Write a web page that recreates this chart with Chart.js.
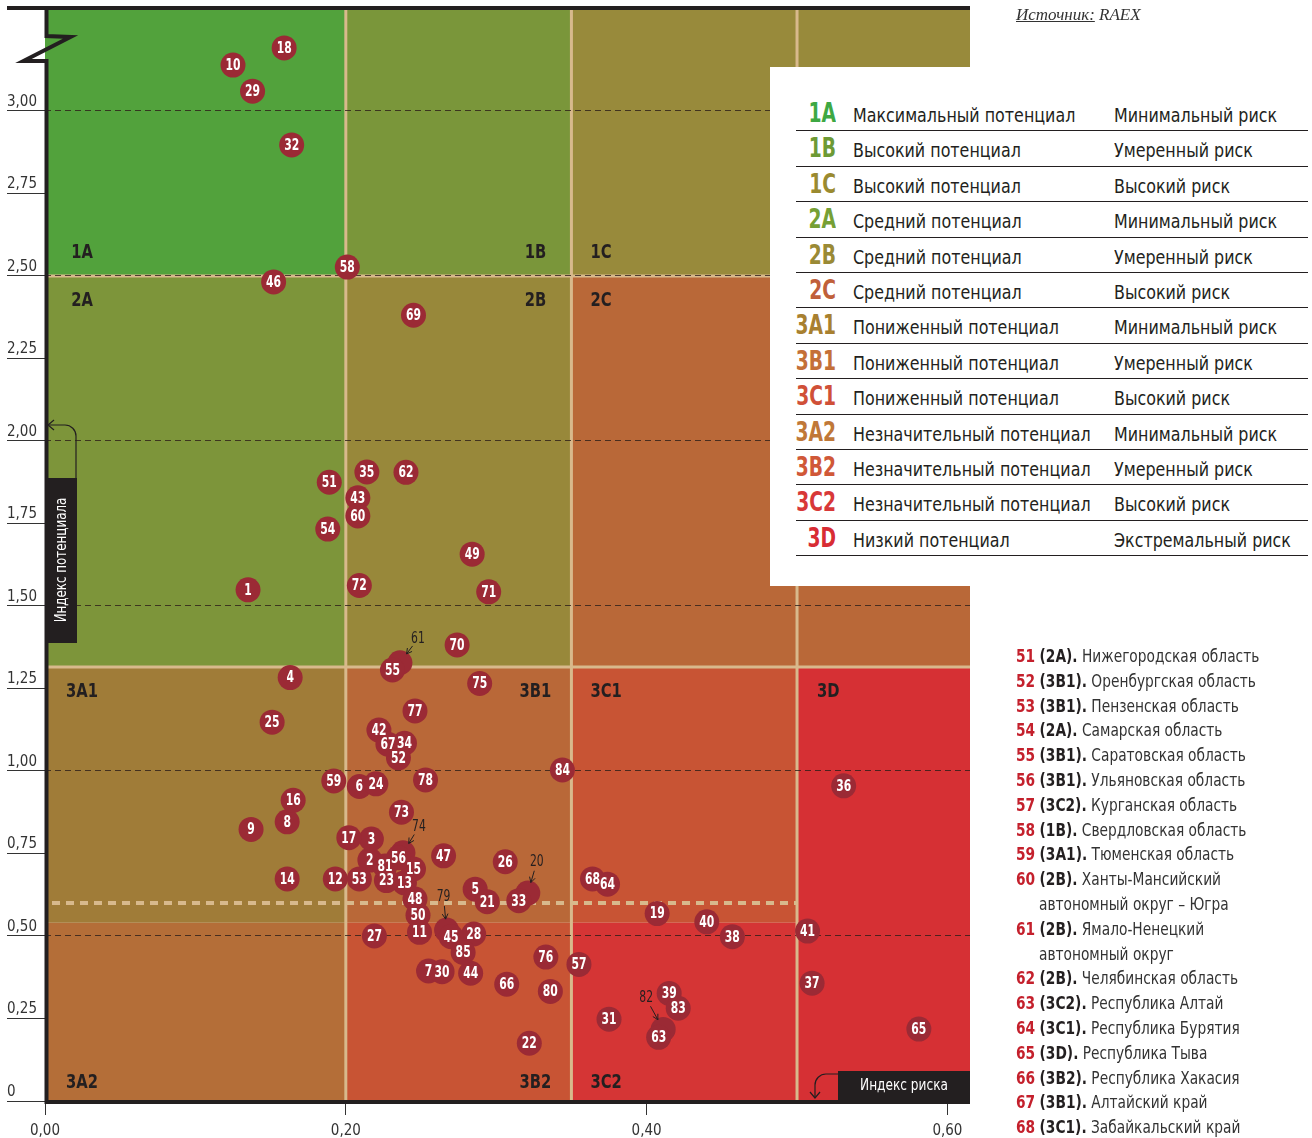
<!DOCTYPE html>
<html lang="ru">
<head>
    <meta charset="UTF-8">
    <title>Потенциал и риск регионов</title>
    <style>
        html, body { margin: 0; padding: 0; background: #fff; }
        body {
            width: 1312px; height: 1138px; position: relative; overflow: hidden;
            font-family: 'Liberation Sans Narrow', 'DejaVu Sans Condensed', Roboto, sans-serif;
            color: #231f20;
        }
        #chart { position: absolute; left: 0; top: 0; }
        .source {
            position: absolute; left: 1016px; top: 5px;
            font-family: 'Liberation Serif', serif; font-style: italic; font-size: 17px; color: #333;
        }
        .legend {
            position: absolute; left: 770px; top: 67px; width: 542px; height: 519px; background: #fff;
        }
        .legend .rows { position: absolute; left: 26px; top: 29px; width: 512px; }
        .legend .row {
            height: 35.4px; box-sizing: border-box; border-bottom: 1.5px solid #231f20;
            display: flex; align-items: baseline; white-space: nowrap; padding-top: 2px;
        }
        .legend .code {
            width: 60px; margin-left: -20px; margin-right: 17px; text-align: right;
            font-weight: bold; font-size: 26px;
            transform: scaleX(0.8); transform-origin: right center;
        }
        .legend .pot { width: 261px; font-size: 19px; transform: scaleX(0.93); transform-origin: left center; }
        .legend .risk { font-size: 19px; transform: scaleX(0.93); transform-origin: left center; }
        .regions {
            position: absolute; left: 1016px; top: 644px; font-size: 18px; line-height: 24.8px;
            color: #333; white-space: nowrap; transform: scaleX(0.85); transform-origin: left top;
        }
        .regions .n { color: #c4202c; font-weight: bold; }
        .regions .c { color: #231f20; font-weight: bold; }
        .regions .cont { padding-left: 27px; }
    </style>
    <script src="https://cdn.jsdelivr.net/npm/chart.js"></script>
</head>
<body>
    <canvas id="chart" width="1312" height="1138"></canvas>
    <div class="source"><u>Источник:</u> RAEX</div>
    <div class="legend"><div class="rows" id="legendRows"></div></div>
    <div class="regions" id="regionList"></div>

    <script>
        // Регионы: индекс риска (x) и индекс потенциала (y)
        const regionIds = [
            1, 2, 3, 4, 5, 6, 7, 8, 9, 10, 11, 12, 13, 14, 15, 16, 17, 18, 19, 20,
            21, 22, 23, 24, 25, 26, 27, 28, 29, 30, 31, 32, 33, 34, 35, 36, 37, 38, 39, 40,
            41, 42, 43, 44, 45, 46, 47, 48, 49, 50, 51, 52, 53, 54, 55, 56, 57, 58, 59, 60,
            61, 62, 63, 64, 65, 66, 67, 68, 69, 70, 71, 72, 73, 74, 75, 76, 77, 78, 79, 80,
            81, 82, 83, 84, 85
        ];
        const riskIndex = [
            0.135, 0.216, 0.217, 0.163, 0.286, 0.209, 0.255, 0.161, 0.137, 0.125,
            0.249, 0.193, 0.239, 0.161, 0.245, 0.165, 0.202, 0.159, 0.407, 0.321,
            0.294, 0.322, 0.227, 0.220, 0.151, 0.306, 0.219, 0.285, 0.138, 0.264,
            0.375, 0.164, 0.315, 0.239, 0.214, 0.531, 0.510, 0.457, 0.415, 0.440,
            0.507, 0.222, 0.208, 0.283, 0.270, 0.152, 0.265, 0.246, 0.284, 0.248,
            0.189, 0.235, 0.209, 0.188, 0.231, 0.235, 0.355, 0.201, 0.192, 0.208,
            0.236, 0.240, 0.408, 0.374, 0.581, 0.307, 0.228, 0.364, 0.245, 0.274,
            0.295, 0.209, 0.237, 0.238, 0.289, 0.333, 0.246, 0.253, 0.267, 0.336,
            0.226, 0.411, 0.421, 0.344, 0.278
        ];
        const potentialIndex = [
            1.549, 0.730, 0.794, 1.283, 0.642, 0.953, 0.394, 0.846, 0.823, 3.139,
            0.511, 0.673, 0.661, 0.673, 0.703, 0.911, 0.798, 3.191, 0.568, 0.630,
            0.604, 0.175, 0.668, 0.961, 1.148, 0.725, 0.500, 0.506, 3.060, 0.392,
            0.248, 2.897, 0.607, 1.084, 1.906, 0.955, 0.357, 0.498, 0.326, 0.543,
            0.515, 1.124, 1.828, 0.387, 0.498, 2.482, 0.743, 0.612, 1.657, 0.563,
            1.875, 1.040, 0.673, 1.733, 1.306, 0.737, 0.414, 2.527, 0.970, 1.773,
            1.328, 1.905, 0.193, 0.657, 0.218, 0.354, 1.081, 0.673, 2.381, 1.382,
            1.543, 1.562, 0.875, 0.752, 1.265, 0.436, 1.182, 0.973, 0.518, 0.332,
            0.712, 0.217, 0.281, 1.003, 0.450
        ];
        // Кружки, закрытые соседями: номер выносится стрелкой
        const calloutIds = [20, 61, 74, 79, 82];

        // Границы групп
        const riskBreaks = [0.2, 0.35, 0.5];
        const potentialBreaks = [0.54, 1.315, 2.5];
        const thresholdLine = 0.6;

        // Оси
        const xMax = 0.615;
        const yMax = 3.312;
        const xTickValues = [0, 0.2, 0.4, 0.6];
        const xTickLabels = ['0,00', '0,20', '0,40', '0,60'];
        const yTickValues = [0, 0.25, 0.5, 0.75, 1, 1.25, 1.5, 1.75, 2, 2.25, 2.5, 2.75, 3];
        const yTickLabels = ['0', '0,25', '0,50', '0,75', '1,00', '1,25', '1,50', '1,75', '2,00', '2,25', '2,50', '2,75', '3,00'];

        // Легенда
        const zoneCodes = ['1A', '1B', '1C', '2A', '2B', '2C', '3A1', '3B1', '3C1', '3A2', '3B2', '3C2', '3D'];
        const zonePotential = ['Максимальный потенциал', 'Высокий потенциал', 'Высокий потенциал',
            'Средний потенциал', 'Средний потенциал', 'Средний потенциал',
            'Пониженный потенциал', 'Пониженный потенциал', 'Пониженный потенциал',
            'Незначительный потенциал', 'Незначительный потенциал', 'Незначительный потенциал',
            'Низкий потенциал'];
        const zoneRisk = ['Минимальный риск', 'Умеренный риск', 'Высокий риск',
            'Минимальный риск', 'Умеренный риск', 'Высокий риск',
            'Минимальный риск', 'Умеренный риск', 'Высокий риск',
            'Минимальный риск', 'Умеренный риск', 'Высокий риск',
            'Экстремальный риск'];

        // Список регионов (фрагмент)
        const listIds = [51, 52, 53, 54, 55, 56, 57, 58, 59, 60, 61, 62, 63, 64, 65, 66, 67, 68];
        const listCodes = ['2A', '3B1', '3B1', '2A', '3B1', '3B1', '3C2', '1B', '3A1', '2B', '2B', '2B',
            '3C2', '3C1', '3D', '3B2', '3B1', '3C1'];
        const listNames = ['Нижегородская область', 'Оренбургская область', 'Пензенская область',
            'Самарская область', 'Саратовская область', 'Ульяновская область', 'Курганская область',
            'Свердловская область', 'Тюменская область', 'Ханты-Мансийский|автономный округ – Югра',
            'Ямало-Ненецкий|автономный округ', 'Челябинская область', 'Республика Алтай',
            'Республика Бурятия', 'Республика Тыва', 'Республика Хакасия', 'Алтайский край',
            'Забайкальский край'];

        const FONT = "'Liberation Sans Narrow', 'DejaVu Sans Condensed', Roboto, sans-serif";
        const INK = '#231f20';
        const TAN = '#d8b98c';
        const POINT = '#9b2a35';

        const zoneFill = {
            '1A': '#52a23c', '1B': '#7a963a', '1C': '#988a3b',
            '2A': '#7d953a', '2B': '#98883a', '2C': '#b96838',
            '3A1': '#a07c38', '3B1': '#b96838', '3C1': '#c85434',
            '3A2': '#b46e38', '3B2': '#c85434', '3C2': '#d53535', '3D': '#d63034'
        };
        const codeColor = {
            '1A': '#3ea843', '1B': '#6d9a35', '1C': '#9a8a30', '2A': '#76a035', '2B': '#9a8a35',
            '2C': '#c0603a', '3A1': '#a88030', '3B1': '#c47038', '3C1': '#d05038',
            '3A2': '#c07838', '3B2': '#d05838', '3C2': '#d83838', '3D': '#d82c34'
        };
        // смещения выносных подписей, px
        const calloutOffset = { 20: [9, -31], 61: [18, -24], 74: [16, -26], 79: [-3, -33], 82: [-17, -31] };

        // HTML: легенда и список
        const legendRows = document.getElementById('legendRows');
        zoneCodes.forEach((c, i) => {
            const row = document.createElement('div');
            row.className = 'row';
            row.innerHTML = '<span class="code" style="color:' + codeColor[c] + '">' + c + '</span>' +
                '<span class="pot">' + zonePotential[i] + '</span><span class="risk">' + zoneRisk[i] + '</span>';
            legendRows.appendChild(row);
        });
        const regionList = document.getElementById('regionList');
        listIds.forEach((id, i) => {
            const parts = listNames[i].split('|');
            let html = '<div><span class="n">' + id + '</span> <span class="c">(' + listCodes[i] + ').</span> ' + parts[0] + '</div>';
            if (parts[1]) html += '<div class="cont">' + parts[1] + '</div>';
            regionList.insertAdjacentHTML('beforeend', html);
        });

        // Точки
        const mainPoints = [], mainIds = [], hiddenPoints = [], hiddenIds = [];
        regionIds.forEach((id, i) => {
            const p = { x: riskIndex[i], y: potentialIndex[i] };
            if (calloutIds.includes(id)) { hiddenPoints.push(p); hiddenIds.push(id); }
            else { mainPoints.push(p); mainIds.push(id); }
        });

        const [r1, r2, r3] = riskBreaks;
        const [p1, p2, p3] = potentialBreaks;
        const zones = [
            ['1A', 0, r1, p3, yMax], ['1B', r1, r2, p3, yMax], ['1C', r2, xMax, p3, yMax],
            ['2A', 0, r1, p2, p3], ['2B', r1, r2, p2, p3], ['2C', r2, xMax, p2, p3],
            ['3A1', 0, r1, p1, p2], ['3B1', r1, r2, p1, p2], ['3C1', r2, r3, p1, p2],
            ['3A2', 0, r1, 0, p1], ['3B2', r1, r2, 0, p1], ['3C2', r2, r3, 0, p1],
            ['3D', r3, xMax, 0, p2]
        ];

        // текст, сжатый по горизонтали (узкий шрифт)
        function narrowText(ctx, t, px, py, sx) {
            ctx.save();
            ctx.translate(px, py);
            ctx.scale(sx, 1);
            ctx.fillText(t, 0, 0);
            ctx.restore();
        }

        const zonesPlugin = {
            id: 'zones',
            beforeDraw(chart) {
                const { ctx, chartArea: a, scales: { x, y } } = chart;
                ctx.save();
                zones.forEach(([code, x0, x1, y0, y1]) => {
                    const L = x.getPixelForValue(x0), R = x.getPixelForValue(x1);
                    const T = y.getPixelForValue(y1), B = y.getPixelForValue(y0);
                    ctx.fillStyle = zoneFill[code];
                    ctx.fillRect(L, T, R - L, B - T);
                });
                ctx.strokeStyle = TAN;
                ctx.lineWidth = 3;
                riskBreaks.forEach(v => {
                    const px = x.getPixelForValue(v);
                    ctx.beginPath(); ctx.moveTo(px, a.top); ctx.lineTo(px, a.bottom); ctx.stroke();
                });
                [p2, p3].forEach(v => {
                    const py = y.getPixelForValue(v);
                    ctx.beginPath(); ctx.moveTo(a.left, py); ctx.lineTo(a.right, py); ctx.stroke();
                });
                ctx.lineWidth = 4;
                ctx.setLineDash([8, 6]);
                const ty = y.getPixelForValue(thresholdLine);
                ctx.beginPath(); ctx.moveTo(a.left + 7, ty); ctx.lineTo(x.getPixelForValue(r3), ty); ctx.stroke();
                ctx.restore();
            },
            beforeDatasetsDraw(chart) {
                const { ctx, chartArea: a, scales: { x, y } } = chart;
                const b1 = x.getPixelForValue(r2), b3 = x.getPixelForValue(r3);
                const cA = a.left + 37, cB = b1 - 36, lC = b1 + 19, lD = b3 + 20;
                const yTop = y.getPixelForValue(p3) - 23, yMid = y.getPixelForValue(p3) + 25;
                const y3 = y.getPixelForValue(p2) + 25, yBot = a.bottom - 18;
                ctx.save();
                ctx.font = 'bold 20px ' + FONT;
                ctx.fillStyle = INK;
                ctx.textBaseline = 'middle';
                const put = (t, px, py, al) => { ctx.textAlign = al; narrowText(ctx, t, px, py, 0.82); };
                put('1A', cA, yTop, 'center'); put('1B', cB, yTop, 'center'); put('1C', lC, yTop, 'left');
                put('2A', cA, yMid, 'center'); put('2B', cB, yMid, 'center'); put('2C', lC, yMid, 'left');
                put('3A1', cA, y3, 'center'); put('3B1', cB, y3, 'center'); put('3C1', lC, y3, 'left');
                put('3D', lD, y3, 'left');
                put('3A2', cA, yBot, 'center'); put('3B2', cB, yBot, 'center'); put('3C2', lC, yBot, 'left');
                ctx.restore();
            }
        };

        const labelsPlugin = {
            id: 'pointLabels',
            afterDatasetsDraw(chart) {
                const ctx = chart.ctx;
                ctx.save();
                ctx.font = 'bold 15px ' + FONT;
                ctx.fillStyle = '#fff';
                ctx.textAlign = 'center';
                ctx.textBaseline = 'middle';
                chart.getDatasetMeta(0).data.forEach((pt, i) => narrowText(ctx, String(mainIds[i]), pt.x, pt.y + 1, 0.8));
                ctx.font = '15px ' + FONT;
                ctx.fillStyle = INK;
                ctx.strokeStyle = INK;
                ctx.lineWidth = 1;
                chart.getDatasetMeta(1).data.forEach((pt, i) => {
                    const id = hiddenIds[i];
                    const [dx, dy] = calloutOffset[id];
                    const lx = pt.x + dx, ly = pt.y + dy;
                    narrowText(ctx, String(id), lx, ly, 0.8);
                    const len = Math.hypot(dx, dy), ux = -dx / len, uy = -dy / len;
                    const sx = lx + ux * 9, sy = ly + uy * 9;
                    const ex = pt.x - ux * 11, ey = pt.y - uy * 11;
                    ctx.beginPath(); ctx.moveTo(sx, sy); ctx.lineTo(ex, ey); ctx.stroke();
                    const ang = Math.atan2(uy, ux);
                    ctx.beginPath();
                    ctx.moveTo(ex - 6 * Math.cos(ang - 0.5), ey - 6 * Math.sin(ang - 0.5));
                    ctx.lineTo(ex, ey);
                    ctx.lineTo(ex - 6 * Math.cos(ang + 0.5), ey - 6 * Math.sin(ang + 0.5));
                    ctx.stroke();
                });
                ctx.restore();
            }
        };

        const framePlugin = {
            id: 'frame',
            afterDraw(chart) {
                const { ctx, chartArea: a } = chart;
                const L = a.left + 1.5;
                ctx.save();
                ctx.strokeStyle = INK;
                ctx.lineWidth = 4;
                ctx.lineJoin = 'miter';
                ctx.beginPath(); ctx.moveTo(7, a.top); ctx.lineTo(a.right, a.top); ctx.stroke();
                ctx.beginPath(); ctx.moveTo(L, a.top);
                ctx.lineTo(L, a.top + 28); ctx.lineTo(L + 24, a.top + 29);
                ctx.lineTo(L - 23, a.top + 53); ctx.lineTo(L, a.top + 53);
                ctx.lineTo(L, a.bottom + 3); ctx.stroke();
                ctx.beginPath(); ctx.moveTo(a.left, a.bottom + 1); ctx.lineTo(a.right, a.bottom + 1); ctx.stroke();

                // подпись оси Y
                ctx.fillStyle = INK;
                ctx.fillRect(a.left + 2, a.top + 470, 30, 165);
                ctx.save();
                ctx.translate(a.left + 17, a.top + 552);
                ctx.rotate(-Math.PI / 2);
                ctx.fillStyle = '#fff';
                ctx.font = '15px ' + FONT;
                ctx.textAlign = 'center'; ctx.textBaseline = 'middle';
                narrowText(ctx, 'Индекс потенциала', 0, 0, 0.88);
                ctx.restore();
                ctx.lineWidth = 1.2;
                const ax = a.left + 31;
                ctx.beginPath();
                ctx.moveTo(ax, a.top + 470); ctx.lineTo(ax, a.top + 428);
                ctx.arcTo(ax, a.top + 417, ax - 11, a.top + 417, 11);
                ctx.lineTo(a.left + 3, a.top + 417); ctx.stroke();
                ctx.beginPath();
                ctx.moveTo(a.left + 9, a.top + 412); ctx.lineTo(a.left + 3, a.top + 417); ctx.lineTo(a.left + 9, a.top + 422);
                ctx.stroke();

                // подпись оси X
                ctx.fillRect(a.right - 132, a.bottom - 30, 132, 30);
                ctx.fillStyle = '#fff';
                ctx.font = '15px ' + FONT;
                ctx.textAlign = 'center'; ctx.textBaseline = 'middle';
                narrowText(ctx, 'Индекс риска', a.right - 66, a.bottom - 15, 0.9);
                const bx = a.right - 155;
                ctx.beginPath();
                ctx.moveTo(a.right - 132, a.bottom - 27); ctx.lineTo(bx + 11, a.bottom - 27);
                ctx.arcTo(bx, a.bottom - 27, bx, a.bottom - 16, 11);
                ctx.lineTo(bx, a.bottom - 3); ctx.stroke();
                ctx.beginPath();
                ctx.moveTo(bx - 5, a.bottom - 9); ctx.lineTo(bx, a.bottom - 3); ctx.lineTo(bx + 5, a.bottom - 9);
                ctx.stroke();
                ctx.restore();
            }
        };

        Chart.defaults.font.family = FONT;
        const halfStep = v => v > 0 && Math.abs(v * 2 - Math.round(v * 2)) < 1e-6;

        new Chart(document.getElementById('chart'), {
            type: 'scatter',
            data: {
                datasets: [
                    { data: mainPoints, backgroundColor: POINT, borderWidth: 0, pointRadius: 12.5, pointHoverRadius: 12.5, order: 0 },
                    { data: hiddenPoints, backgroundColor: POINT, borderWidth: 0, pointRadius: 12.5, pointHoverRadius: 12.5, order: 1 }
                ]
            },
            options: {
                responsive: false,
                animation: false,
                layout: { autoPadding: false, padding: { left: 7, top: 8, right: 342, bottom: 0 } },
                plugins: { legend: { display: false }, tooltip: { enabled: false } },
                scales: {
                    x: {
                        type: 'linear', min: 0, max: xMax,
                        afterBuildTicks: s => { s.ticks = xTickValues.map(v => ({ value: v })); },
                        afterFit: s => { s.height = 37; s.paddingLeft = 0; s.paddingRight = 0; },
                        ticks: {
                            autoSkip: false, maxRotation: 0, padding: 7,
                            color: '#333', font: { size: 15 },
                            callback: (v, i) => xTickLabels[i]
                        },
                        grid: { drawOnChartArea: false, tickLength: 14, tickColor: '#333', tickWidth: 1 },
                        border: { display: false }
                    },
                    y: {
                        type: 'linear', min: 0, max: yMax,
                        afterBuildTicks: s => { s.ticks = yTickValues.map(v => ({ value: v })); },
                        afterFit: s => { s.width = 38; s.paddingTop = 0; s.paddingBottom = 0; },
                        ticks: {
                            autoSkip: false, crossAlign: 'far', labelOffset: -9,
                            color: '#333', font: { size: 15 },
                            callback: (v, i) => yTickLabels[i]
                        },
                        grid: {
                            color: c => (c.tick && halfStep(c.tick.value)) ? 'rgba(45,30,25,0.8)' : 'rgba(0,0,0,0)',
                            lineWidth: 1, tickLength: 38, tickColor: '#333', tickWidth: 1
                        },
                        border: { display: false, dash: [6, 4] }
                    }
                }
            },
            plugins: [zonesPlugin, labelsPlugin, framePlugin]
        });
    </script>
</body>
</html>
